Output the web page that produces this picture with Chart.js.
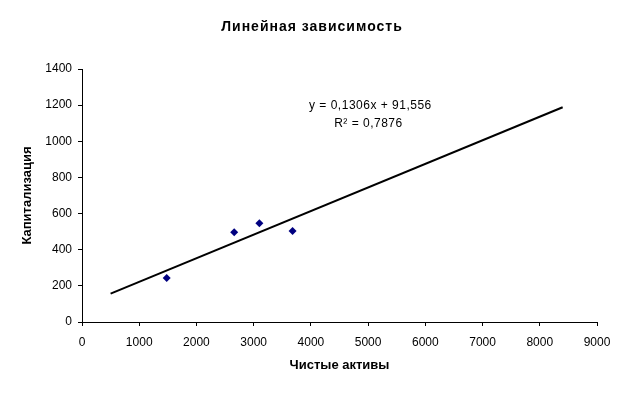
<!DOCTYPE html>
<html>
<head>
<meta charset="utf-8">
<script src="https://cdn.jsdelivr.net/npm/chart.js@4/dist/chart.umd.min.js"></script>
<style>
  body { margin: 0; background: #fff; }
  canvas { display: block; }
</style>
</head>
<body>
<canvas id="chart" width="624" height="393"></canvas>
<script>
// Data
const netAssets = [1480, 2660, 3100, 3680];
const capitalization = [243, 497, 547, 503];

// Linear trendline shown in the picture
const slope = 0.1306;
const intercept = 91.556;
const trendRange = [500, 8400];

const xTicks = [0, 1000, 2000, 3000, 4000, 5000, 6000, 7000, 8000, 9000];
const yTicks = [0, 200, 400, 600, 800, 1000, 1200, 1400];

const chartTitle = 'Линейная зависимость';
const xTitle = 'Чистые активы';
const yTitle = 'Капитализация';
const equationLines = ['y = 0,1306x + 91,556', 'R² = 0,7876'];

const FONT = "'Liberation Sans', Arial, sans-serif";

const scatterPoints = netAssets.map((x, i) => ({ x: x, y: capitalization[i] }));
const trendPoints = trendRange.map(x => ({ x: x, y: slope * x + intercept }));

// draws the main title and the equation label
const textPlugin = {
    id: 'textPlugin',
    afterDraw(chart) {
        const c = chart.ctx;
        const xs = chart.scales.x;
        const ys = chart.scales.y;
        c.save();
        c.fillStyle = '#000';
        c.textAlign = 'center';
        c.textBaseline = 'middle';
        c.font = 'bold 14px ' + FONT;
        c.letterSpacing = '1px';
        c.fillText(chartTitle, 312, 27);
        c.letterSpacing = '0.5px';
        c.font = '12px ' + FONT;
        const ex = xs.getPixelForValue(5040);
        c.fillText(equationLines[0], ex, ys.getPixelForValue(1197));
        c.fillText(equationLines[1], ex - 2, ys.getPixelForValue(1096));
        c.restore();
    }
};

const axisCommon = {
    grid: {
        display: true,
        drawOnChartArea: false,
        drawTicks: true,
        tickLength: 4,
        tickColor: '#000',
        color: '#000'
    },
    border: { display: true, color: '#000', width: 1 },
    ticks: {
        color: '#000',
        font: { family: FONT, size: 12 },
        callback: v => String(v)
    }
};

new Chart(document.getElementById('chart'), {
    type: 'scatter',
    data: {
        datasets: [
            {
                data: scatterPoints,
                pointStyle: 'rectRot',
                pointRadius: 4,
                pointBorderWidth: 0,
                backgroundColor: '#000080',
                borderColor: '#000080'
            },
            {
                type: 'line',
                data: trendPoints,
                showLine: true,
                pointRadius: 0,
                borderColor: '#000',
                borderWidth: 2,
                fill: false
            }
        ]
    },
    options: {
        responsive: false,
        animation: false,
        layout: { padding: { top: 69, left: 16, right: 27, bottom: 16 } },
        plugins: {
            legend: { display: false },
            tooltip: { enabled: false },
            title: { display: false }
        },
        scales: {
            x: {
                type: 'linear',
                min: 0,
                max: 9000,
                afterBuildTicks: s => { s.ticks = xTicks.map(v => ({ value: v })); },
                afterFit: s => { s.height = 55; },
                grid: axisCommon.grid,
                border: axisCommon.border,
                ticks: Object.assign({}, axisCommon.ticks, { padding: 9, maxRotation: 0 }),
                title: {
                    display: true,
                    text: xTitle,
                    color: '#000',
                    font: { family: FONT, size: 13, weight: 'bold' },
                    padding: { top: 4, bottom: 4 }
                }
            },
            y: {
                type: 'linear',
                min: 0,
                max: 1400,
                afterBuildTicks: s => { s.ticks = yTicks.map(v => ({ value: v })); },
                afterFit: s => { s.width = 66; },
                grid: axisCommon.grid,
                border: axisCommon.border,
                ticks: Object.assign({}, axisCommon.ticks, { padding: 6 }),
                title: {
                    display: true,
                    text: yTitle,
                    color: '#000',
                    font: { family: FONT, size: 13, weight: 'bold' },
                    padding: { top: 4, bottom: 4 }
                }
            }
        }
    },
    plugins: [textPlugin]
});
</script>
</body>
</html>
